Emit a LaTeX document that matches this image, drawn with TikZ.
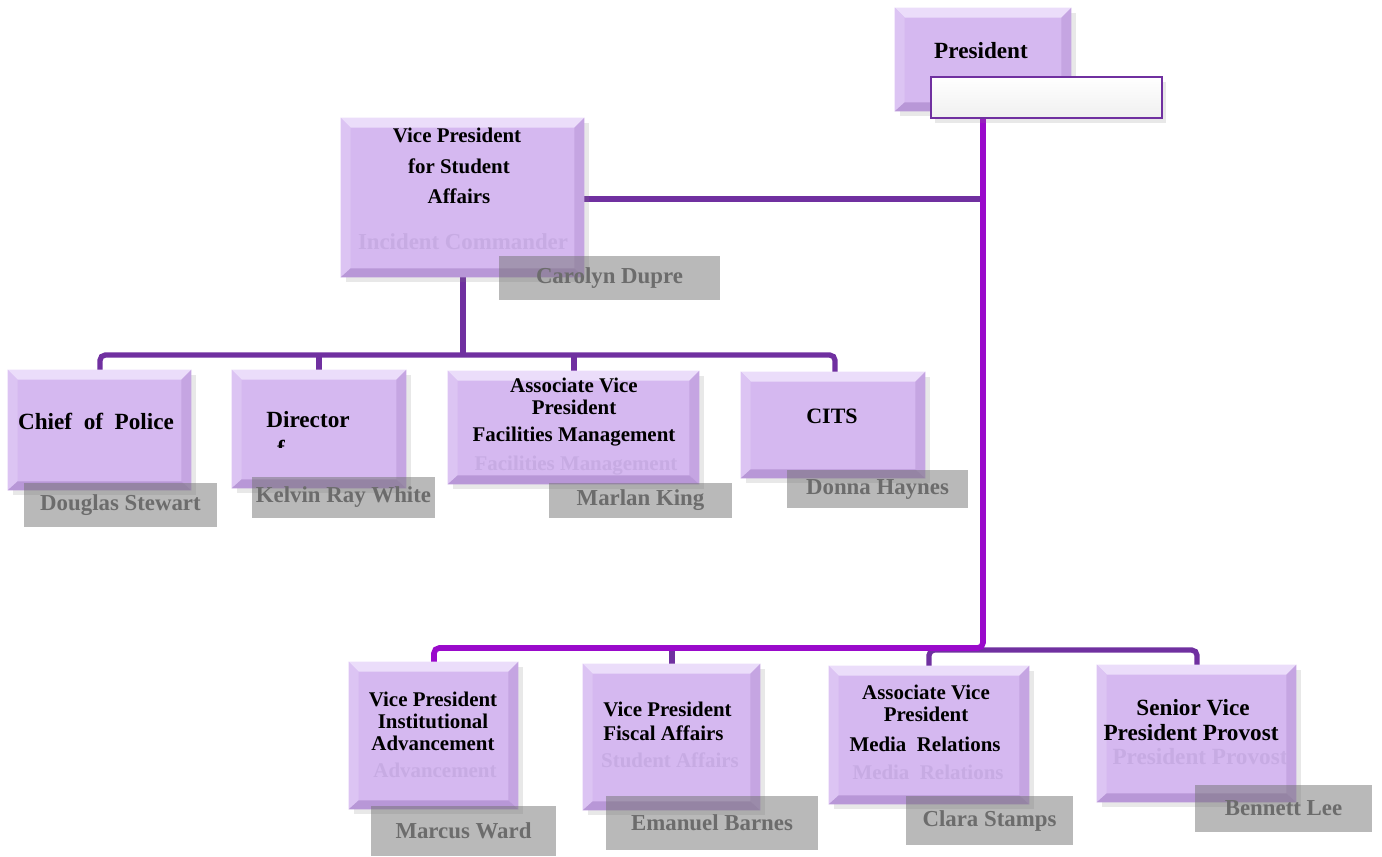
\documentclass[tikz,border=0pt]{standalone}
\usepackage{fontspec}
\setmainfont{Liberation Serif}
\usetikzlibrary{shadows}
\definecolor{boxfill}{HTML}{D5B8F0}
\definecolor{bvtop}{HTML}{EBDDFA}
\definecolor{bvleft}{HTML}{DCC4F3}
\definecolor{bvright}{HTML}{C5A5E2}
\definecolor{bvbot}{HTML}{B897D7}
\definecolor{dkp}{HTML}{7030A0}
\definecolor{brp}{HTML}{9A0ACB}
\definecolor{ghostc}{HTML}{C7ABE3}
\definecolor{nametxt}{HTML}{6C6C6C}
\newcommand\bevel[1]{%
 \fill[bvtop] (#1.north west) -- (#1.north east) -- ([shift={(-10,10)}]#1.north east) -- ([shift={(10,10)}]#1.north west) -- cycle;
 \fill[bvleft] (#1.north west) -- ([shift={(10,10)}]#1.north west) -- ([shift={(10,-9)}]#1.south west) -- (#1.south west) -- cycle;
 \fill[bvright] (#1.north east) -- ([shift={(-10,10)}]#1.north east) -- ([shift={(-10,-9)}]#1.south east) -- (#1.south east) -- cycle;
 \fill[bvbot] (#1.south west) -- ([shift={(10,-9)}]#1.south west) -- ([shift={(-10,-9)}]#1.south east) -- (#1.south east) -- cycle;}
\newcommand\obox[5]{%
 \pgfmathsetmacro\bw{(#4-#2)*0.02}%
 \pgfmathsetmacro\bh{(#5-#3)*0.02}%
 \node[orgbox, minimum width=\bw cm, minimum height=\bh cm] (#1) at ({(#2+#4)/2},{(#3+#5)/2}) {};%
 \bevel{#1}}
\newcommand\nbox[6]{%
 \pgfmathsetmacro\bw{(#4-#2)*0.02}%
 \pgfmathsetmacro\bh{(#5-#3)*0.02}%
 \node[namebox, minimum width=\bw cm, minimum height=\bh cm] (#1) at ({(#2+#4)/2},{(#3+#5)/2}) {#6};}
\tikzset{
 orgbox/.style={draw=none, fill=boxfill, inner sep=0pt,
   drop shadow={shadow xshift=3pt, shadow yshift=-3pt, opacity=.18}},
 namebox/.style={draw=none, fill=black!55, fill opacity=.5, text opacity=1, text=nametxt,
   inner sep=0pt, font=\bfseries\fontsize{13}{15}\selectfont},
 lbl/.style={inner sep=0pt, font=\bfseries\fontsize{11.9}{13}\selectfont},
 lblb/.style={inner sep=0pt, font=\bfseries\fontsize{13.2}{15}\selectfont},
 ghost/.style={inner sep=0pt, text=ghostc, font=\bfseries\fontsize{11.9}{13}\selectfont},
 ghostb/.style={ghost, font=\bfseries\fontsize{13.2}{15}\selectfont},
 dk/.style={draw=dkp, line width=3pt, rounded corners=3pt},
 br/.style={draw=brp, line width=3.2pt, rounded corners=3pt},
}
\begin{document}
\begin{tikzpicture}[x=0.02cm, y=-0.02cm]
\useasboundingbox (0,0) rectangle (1382,856);
% junction coordinates
\coordinate (j1) at (983,199);
\coordinate (j2) at (983,648);
\coordinate (j3) at (463,355);
\coordinate (j4) at (983,650);
% connectors
\draw[dk] (541,199) -- (j1);
\draw[dk] (100,380) -- (100,355) -- (835,355) -- (835,380);
\draw[dk] (463,270) -- (j3);
\draw[dk] (319,355) -- (319,380);
\draw[dk] (574,355) -- (574,380);
\draw[dk] (929,676) -- (929,650) -- (1197,650) -- (1197,676);
\draw[dk] (672,648) -- (672,676);
\draw[br] (983,110) -- (j2) -- (434,648) -- (434,676);
% President
\obox{pres}{895}{8}{1071}{111}
\node[lblb] (tpres) at (981,51) {President};
\node[draw=dkp, line width=1.3pt, top color=white, bottom color=black!6, minimum width=4.62cm, minimum height=0.82cm, inner sep=0pt,
  drop shadow={shadow xshift=2pt, shadow yshift=-3pt, opacity=.18}] (presw) at (1046.5,97.5) {};
% VP student affairs
\obox{vpsa}{341}{118}{584}{277}
\node[ghost, font=\bfseries\fontsize{13}{15}\selectfont] (gvpsa3) at (463,242) {Incident Commander};
\node[lbl] (tvpsa1) at (457,135) {Vice President};
\node[lbl] (tvpsa2) at (459,166) {for Student};
\node[lbl] (tvpsa3) at (459,196) {Affairs};
% Chief of police
\obox{cop}{8}{370}{191}{490}
\node[lblb] (tcop) at (96,421) {Chief\ \ of\ \ Police};
% Director
\obox{dir}{232}{370}{406}{488}
\node[lblb] (tdir) at (308,420) {Director};
\begin{scope}
\clip (260,430) rectangle (300,447);
\node[lblb, anchor=base] (tdirf) at (281,456) {f};
\end{scope}
% Facilities
\obox{fac}{448}{371}{699}{484}
\node[ghost] (gfac2) at (576,466) {Facilities Management};
\node[lbl] (tfac1) at (574,385) {Associate Vice};
\node[lbl] (tfac2) at (574,407) {President};
\node[lbl] (tfac3) at (574,437) {Facilities Management};
% CITS
\obox{cits}{741}{372}{925}{478}
\node[lbl, font=\bfseries\fontsize{12.5}{14}\selectfont] (tcits) at (832,416) {CITS};
% VP Institutional Advancement
\obox{vpia}{349}{662}{518}{809}
\node[ghost] (gvpia) at (435,770) {Advancement};
\node[lbl] (tvpia1) at (433,699) {Vice President};
\node[lbl] (tvpia2) at (433,721) {Institutional};
\node[lbl] (tvpia3) at (433,743) {Advancement};
% VP Fiscal Affairs
\obox{vpfa}{583}{664}{760}{810}
\node[ghost] (gvpfa2) at (670,760) {Student Affairs};
\node[lbl, anchor=west] (tvpfa1) at (603,709) {Vice President};
\node[lbl, anchor=west] (tvpfa2) at (603,733) {Fiscal Affairs};
% Media
\obox{media}{829}{666}{1029}{804}
\node[ghost] (gmed2) at (928,772) {Media\ \ Relations};
\node[lbl] (tmed1) at (926,692) {Associate Vice};
\node[lbl] (tmed2) at (926,714) {President};
\node[lbl] (tmed3) at (925,744) {Media\ \ Relations};
% Senior VP
\obox{svp}{1097}{665}{1296}{802}
\node[ghostb] (gsvp) at (1200,757) {President Provost};
\node[lblb] (tsvp1) at (1193,708) {Senior Vice};
\node[lblb] (tsvp2) at (1191,733) {President Provost};
% name boxes
\nbox{ncar}{499}{256}{720}{300}{Carolyn Dupre}
\nbox{ndou}{24}{483}{217}{527}{Douglas Stewart}
\nbox{nkel}{252}{477}{435}{518}{Kelvin Ray White}
\nbox{nmar}{549}{483}{732}{518}{Marlan King}
\nbox{ndon}{787}{470}{968}{508}{Donna Haynes}
\nbox{nmwa}{371}{806}{556}{856}{Marcus Ward}
\nbox{nema}{606}{796}{818}{850}{Emanuel Barnes}
\nbox{ncla}{906}{796}{1073}{845}{Clara Stamps}
\nbox{nben}{1195}{785}{1372}{832}{Bennett Lee}
\end{tikzpicture}
\end{document}
